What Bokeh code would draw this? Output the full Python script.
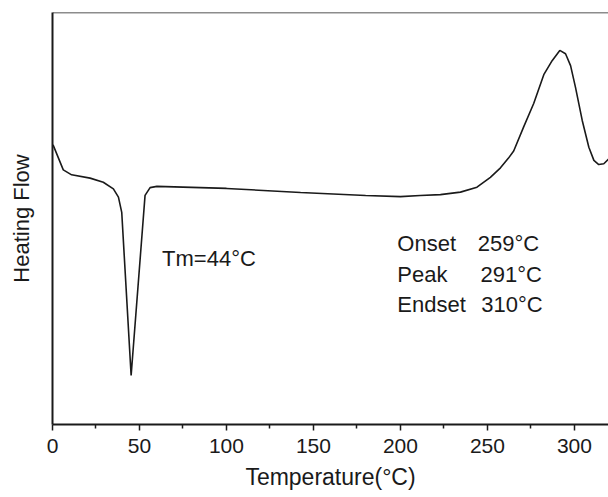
from bokeh.plotting import figure
from bokeh.models import Range1d, FixedTicker, Span, ColumnDataSource
from bokeh.core.properties import value
from bokeh.embed import file_html
from bokeh.resources import INLINE

# DSC curve (temperature in degC, heat flow in arbitrary units)
temperature = [0, 0.5, 6.2, 11, 21.6, 29.2, 35, 37.9, 39.8, 45.2, 53.2, 56.1, 60, 100, 142.6,
               180, 200, 211.4, 223, 234.5, 244, 251.7, 257.5, 262, 265.1, 270.9, 276.6,
               282.4, 287.2, 291.6, 294.9, 297.8, 300.6, 304.5, 308.3, 311.2, 314.0, 316.9,
               319.8]
heat_flow = [67.9, 67.7, 61.8, 60.6, 59.8, 58.8, 57.2, 55.2, 51.5, 11.9, 55.6, 57.5, 57.8, 57.3,
             56.3, 55.6, 55.3, 55.6, 55.8, 56.4, 57.6, 60.0, 62.3, 64.6, 66.4, 72.3, 77.9,
             84.9, 88.3, 90.8, 90.0, 87.1, 81.9, 73.8, 67.3, 64.1, 63.1, 63.3, 64.5]

x_ticks = [0, 50, 100, 150, 200, 250, 300]
x_minor = [25, 75, 125, 175, 225, 275]

tm_label = "Tm=44°C"
event_names = ["Onset", "Peak", "Endset"]
event_values = ["259°C", "291°C", "310°C"]

FONT = "Liberation Sans"
INK = "#1a1a1a"

p = figure(frame_width=556, frame_height=412, min_border_left=52, min_border_top=12,
           min_border_right=0, min_border_bottom=0,
           output_backend="svg", toolbar_location=None,
           x_range=Range1d(0, 319.6), y_range=Range1d(0, 100))

p.outline_line_color = None
p.grid.grid_line_color = None
p.background_fill_color = "white"
p.border_fill_color = "white"

# top frame line
p.add_layout(Span(location=100, dimension="width", line_color=INK, line_width=1.5))

p.line(temperature, heat_flow, line_color=INK, line_width=1.6)

# annotations
p.text(x=[63], y=[40.3], text=[tm_label], text_font=value(FONT), text_font_size="22px",
       text_color=INK, text_baseline="middle", text_align="left")
src = ColumnDataSource(dict(xn=[198.2] * 3, xv=[244.5, 246.0, 246.5], y=[43.9, 36.4, 29.1],
                            n=event_names, v=event_values))
p.text(x="xn", y="y", text="n", source=src, text_font=value(FONT), text_font_size="22px",
       text_color=INK, text_baseline="middle", text_align="left")
p.text(x="xv", y="y", text="v", source=src, text_font=value(FONT), text_font_size="22px",
       text_color=INK, text_baseline="middle", text_align="left")

# x axis
xa = p.xaxis[0]
xa.ticker = FixedTicker(ticks=x_ticks, minor_ticks=x_minor)
xa.axis_label = "Temperature(°C)"
xa.axis_line_width = 2
xa.axis_line_color = INK
xa.major_tick_line_color = INK
xa.major_tick_line_width = 1.5
xa.major_tick_out = 6
xa.major_tick_in = 0
xa.minor_tick_line_color = INK
xa.minor_tick_line_width = 1.5
xa.minor_tick_out = 4
xa.minor_tick_in = 0
xa.major_label_text_font = FONT
xa.major_label_text_font_size = "21px"
xa.major_label_text_color = INK
xa.major_label_standoff = 8
xa.axis_label_text_font = FONT
xa.axis_label_text_font_size = "23px"
xa.axis_label_text_font_style = "normal"
xa.axis_label_text_color = INK
xa.axis_label_standoff = 8

# y axis
ya = p.yaxis[0]
ya.ticker = FixedTicker(ticks=[])
ya.axis_label = "Heating Flow"
ya.axis_line_width = 2
ya.axis_line_color = INK
ya.major_tick_line_color = None
ya.minor_tick_line_color = None
ya.major_label_text_font_size = "0px"
ya.axis_label_text_font = FONT
ya.axis_label_text_font_size = "22px"
ya.axis_label_text_font_style = "normal"
ya.axis_label_text_color = INK
ya.axis_label_standoff = 19

open("out.html", "w").write(file_html(p, INLINE))
